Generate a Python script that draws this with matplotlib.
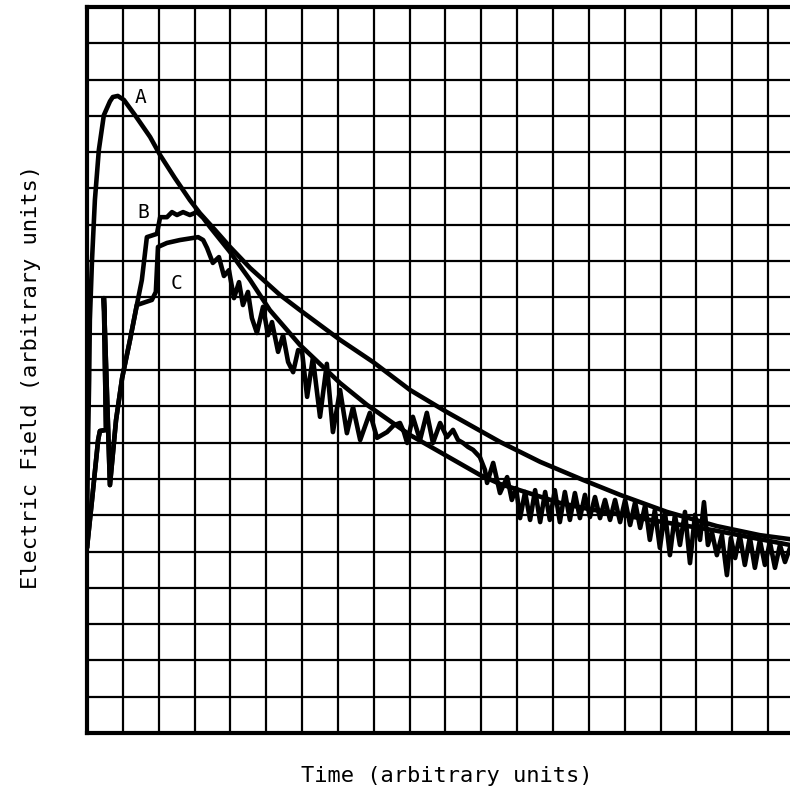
import numpy as np
import matplotlib.pyplot as plt

# Values, in grid cells (1 unit = 1 square)
a_time = [0, 0.01, 0.03, 0.06, 0.08, 0.14, 0.22, 0.33, 0.47, 0.64, 0.72, 0.86,
          1.03, 1.34, 1.76, 2.04, 2.45, 2.87, 3.15, 3.57, 3.99, 4.55, 5.38,
          5.94, 7.06, 7.98, 9.01, 10.04, 11.52, 12.64, 13.84, 14.87, 16.18,
          17.57, 18.77, 19.61]
a_field = [5.10, 6.42, 8.07, 9.72, 11.38, 13.03, 14.68, 16.06, 17.02, 17.40,
           17.52, 17.55, 17.44, 17.02, 16.42, 15.92, 15.29, 14.68, 14.32,
           13.86, 13.39, 12.81, 12.07, 11.65, 10.83, 10.22, 9.45, 8.84, 8.02,
           7.47, 6.97, 6.56, 6.09, 5.70, 5.45, 5.34]

# common rise of B and C (with the early spike)
rise_time = [0, 0.14, 0.31, 0.36, 0.53, 0.47, 0.64, 0.81, 0.98, 1.20, 1.39]
rise_field = [5.10, 6.42, 8.07, 8.32, 8.35, 11.98, 6.83, 8.62, 9.78, 10.83, 11.79]

b_time = [1.53, 1.67, 1.95, 2.04, 2.23, 2.37, 2.51, 2.68, 2.87, 3.07, 3.24,
          3.43, 3.99, 4.55, 5.10, 5.94, 7.06, 7.81, 9.01, 10.96, 11.52, 13.19,
          13.84, 15.70, 17.46, 19.61]
b_field = [12.48, 13.66, 13.75, 14.21, 14.21, 14.35, 14.27, 14.35, 14.27,
           14.35, 14.19, 13.94, 13.25, 12.48, 11.65, 10.69, 9.64, 9.04, 8.21,
           7.11, 6.86, 6.34, 6.20, 5.87, 5.59, 5.18]

c_time = [1.81, 1.92, 1.98, 2.23, 2.59, 2.96, 3.10, 3.24, 3.35,
          3.51, 3.68, 3.82, 3.96, 4.10, 4.24, 4.35, 4.49, 4.60, 4.74, 4.91,
          5.05, 5.16, 5.33, 5.47, 5.61, 5.75, 5.89, 6.00, 6.14, 6.30, 6.50,
          6.69, 6.86, 7.06, 7.25, 7.42, 7.62, 7.89, 8.09, 8.37, 8.56, 8.73,
          8.84, 8.93, 9.09, 9.29, 9.48, 9.65, 9.85, 10.04, 10.21, 10.35, 10.49,
          10.63, 10.77, 10.96, 11.10, 11.16, 11.33, 11.52, 11.72, 11.85, 11.97,
          12.08, 12.22, 12.36, 12.50, 12.64, 12.78, 12.91, 13.05, 13.19, 13.33,
          13.47, 13.61, 13.75, 13.89, 14.03, 14.17, 14.31, 14.45, 14.59, 14.73,
          14.87, 15.01, 15.15, 15.29, 15.43, 15.57, 15.70, 15.84, 15.98, 16.12,
          16.26, 16.40, 16.54, 16.68, 16.82, 16.96, 17.10, 17.21, 17.32, 17.43,
          17.57, 17.71, 17.85, 17.96, 18.08, 18.21, 18.35, 18.49, 18.63, 18.77,
          18.91, 19.05, 19.19, 19.33, 19.47, 19.61]
c_field = [11.93, 12.15, 13.39, 13.50, 13.58, 13.64, 13.66, 13.58, 13.36,
           12.95, 13.11, 12.59, 12.75, 11.98, 12.42, 11.79, 12.15, 11.43, 11.02,
           11.74, 10.96, 11.32, 10.50, 10.96, 10.22, 9.94, 10.55, 10.50, 9.26,
           10.33, 8.71, 10.17, 8.29, 9.45, 8.26, 8.98, 8.07, 8.82, 8.13, 8.29,
           8.48, 8.54, 8.29, 7.99, 8.71, 8.07, 8.82, 7.99, 8.54, 8.15, 8.35,
           8.07, 7.99, 7.88, 7.80, 7.60, 7.25, 6.89, 7.44, 6.61, 7.05, 6.42,
           6.75, 5.92, 6.64, 5.87, 6.69, 5.81, 6.64, 5.87, 6.69, 5.81, 6.64,
           5.87, 6.61, 5.92, 6.56, 5.95, 6.50, 5.92, 6.42, 5.87, 6.42, 5.81,
           6.42, 5.73, 6.36, 5.65, 6.28, 5.32, 6.14, 5.10, 6.09, 4.90, 6.01,
           5.18, 6.09, 4.68, 6.01, 5.32, 6.36, 5.18, 5.54, 4.90, 5.45, 4.35,
           5.37, 4.82, 5.45, 4.63, 5.40, 4.55, 5.32, 4.63, 5.26, 4.55, 5.18,
           4.71, 5.10]

curve_labels = {'A': (1.48, 17.52), 'B': (1.56, 14.35), 'C': (2.51, 12.37)}

plt.rcParams['font.family'] = ['DejaVu Sans Mono']

fig = plt.figure(figsize=(7.9, 7.94), dpi=100)
ax = fig.add_axes([87 / 790, 61 / 794, 703 / 790, 726 / 794])
ax.set_xlim(0, 19.61)
ax.set_ylim(0, 20)

ax.set_xticks(np.arange(0, 20))
ax.set_yticks(np.arange(0, 21))
ax.tick_params(length=0, labelbottom=False, labelleft=False)
ax.grid(True, color='black', linewidth=1.6)
ax.set_axisbelow(True)
for side in ['left', 'top', 'bottom']:
    ax.spines[side].set_linewidth(3)
ax.spines['right'].set_visible(False)

style = dict(color='black', linewidth=3.3, solid_joinstyle='round',
             solid_capstyle='round', zorder=3)
ax.plot(a_time, a_field, **style)
ax.plot(rise_time + b_time, rise_field + b_field, **style)
ax.plot(rise_time + c_time, rise_field + c_field, **style)

for name, (tx, ty) in curve_labels.items():
    ax.text(tx, ty, name, fontsize=14, ha='center', va='center', zorder=4)

ax.set_xlabel('Time (arbitrary units)', fontsize=15.8)
ax.set_ylabel('Electric Field (arbitrary units)', fontsize=15.8)
ax.xaxis.set_label_coords(0.512, -0.046)
ax.yaxis.set_label_coords(-0.066, 0.49)

fig.savefig('out.png', dpi=100, facecolor='white')
